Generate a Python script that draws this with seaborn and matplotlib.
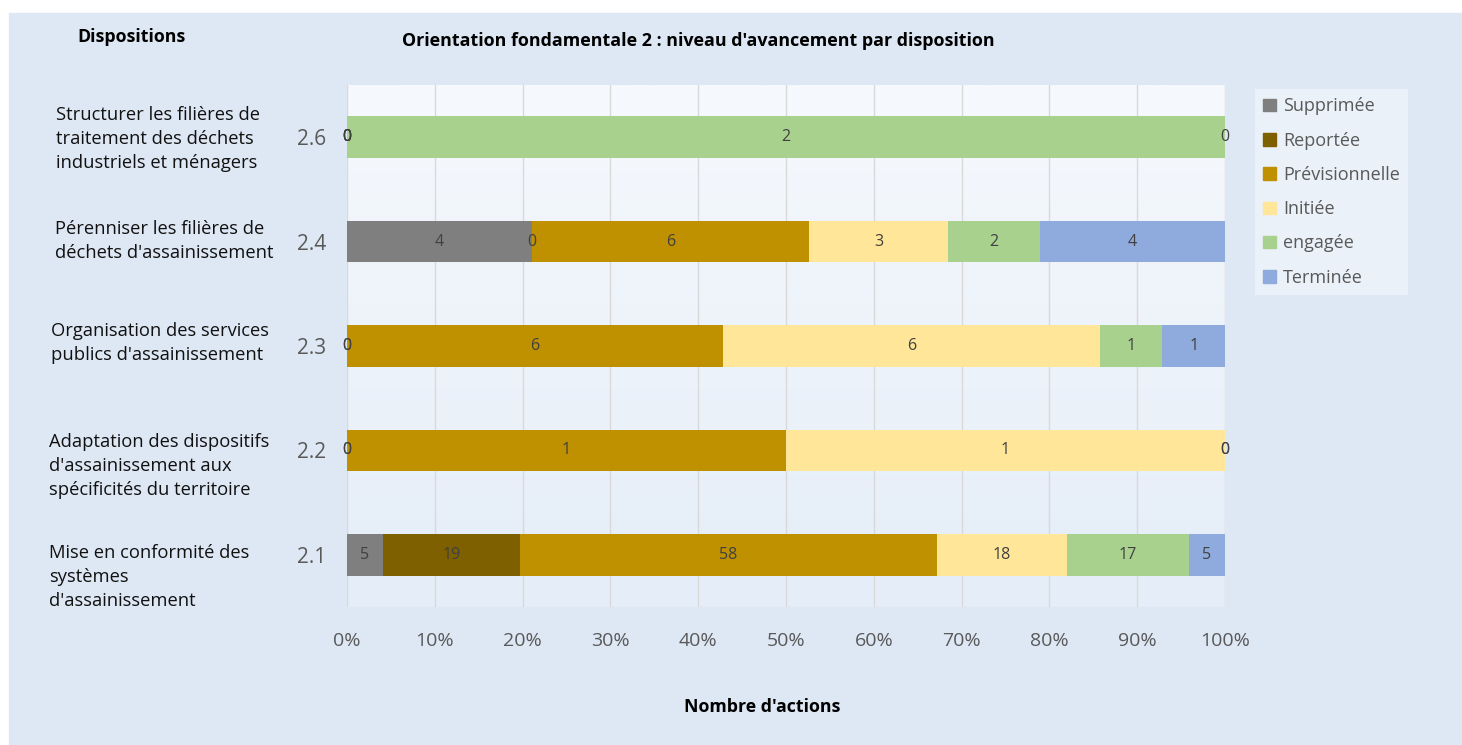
import matplotlib.pyplot as plt
import matplotlib.patches as mpatches
import matplotlib.ticker as ticker
import numpy as np
import pandas as pd
import seaborn as sns

codes = ["2.6", "2.4", "2.3", "2.2", "2.1"]
libelles = [
    "Structurer les filières de\ntraitement des déchets\nindustriels et ménagers",
    "Pérenniser les filières de\ndéchets d'assainissement",
    "Organisation des services\npublics d'assainissement",
    "Adaptation des dispositifs\nd'assainissement aux\nspécificités du territoire",
    "Mise en conformité des\nsystèmes\nd'assainissement",
]
statuts = ["Supprimée", "Reportée", "Prévisionnelle", "Initiée", "engagée", "Terminée"]
supprimee = [0, 4, 0, 0, 5]
reportee = [0, 0, 0, 0, 19]
previsionnelle = [0, 6, 6, 1, 58]
initiee = [0, 3, 6, 1, 18]
engagee = [2, 2, 1, 0, 17]
terminee = [0, 4, 1, 0, 5]
couleurs = ["#7f7f7f", "#7f6000", "#bf9000", "#ffe699", "#a9d18e", "#8faadc"]

df = pd.DataFrame({"code": codes, "Supprimée": supprimee, "Reportée": reportee,
                   "Prévisionnelle": previsionnelle, "Initiée": initiee,
                   "engagée": engagee, "Terminée": terminee})
tot = df[statuts].sum(axis=1)
pct = df[statuts].div(tot, axis=0) * 100
cum = pct.cumsum(axis=1)

sns.set_theme(style="white")
plt.rcParams['font.family'] = ['Open Sans', 'DejaVu Sans']

fig = plt.figure(figsize=(14.62, 7.45), dpi=100)
fig.patch.set_facecolor("white")
fig.patches.append(mpatches.Rectangle((9 / 1462, 0), 1, 1 - 13 / 745, transform=fig.transFigure,
                                      color="#dee8f4", zorder=-10))
ax = fig.add_axes([347 / 1462, 1 - 607 / 745, 878 / 1462, 522 / 745])
ax.set_facecolor("none")

# degrade du fond de la zone de tracé
grad = np.linspace(0, 1, 256).reshape(-1, 1)
cmap = sns.blend_palette(["#f6f9fd", "#e4edf8"], as_cmap=True)
ax.imshow(grad, cmap=cmap, aspect="auto", extent=[0, 100, 4.5, -0.5], zorder=-5)

handles = {}
for i in reversed(range(len(statuts))):
    s = statuts[i]
    d = pd.DataFrame({"code": codes, "val": cum[s].values})
    sns.barplot(data=d, x="val", y="code", order=codes, orient="h", color=couleurs[i],
                width=0.4, errorbar=None, linewidth=0, saturation=1, ax=ax, zorder=2)
    handles[s] = mpatches.Patch(color=couleurs[i], label=s)

for r in range(len(codes)):
    for s in statuts:
        v = df.loc[r, s]
        x = cum.loc[r, s] - pct.loc[r, s] / 2
        ax.text(x, r, str(v), ha="center", va="center", fontsize=11.5, color="#404040", zorder=4)

ax.set_xlim(0, 100)
ax.set_ylim(4.5, -0.5)
ax.xaxis.set_major_locator(ticker.MultipleLocator(10))
ax.xaxis.set_major_formatter(ticker.FuncFormatter(lambda x, p: "%d%%" % x))
ax.grid(axis="x", color="#d9d9d9", linewidth=1, zorder=0)
ax.set_axisbelow(True)
for sp in ax.spines.values():
    sp.set_visible(False)
ax.tick_params(axis="x", labelsize=14, labelcolor="#595959", pad=18, length=0)
ax.tick_params(axis="y", labelsize=15, labelcolor="#595959", pad=15, length=0)
ax.set_xlabel("")
ax.set_ylabel("")

# libellés des dispositions
ypos = [139, 241, 343, 466, 577]
xpos = [56, 55, 51, 49, 49]
for lib, x, y in zip(libelles, xpos, ypos):
    fig.text(x / 1462, 1 - y / 745, lib, ha="left", va="center", fontsize=13.2,
             color="#111111", linespacing=1.45)

fig.text(77 / 1462, 1 - 37 / 745, "Dispositions", ha="left", va="center",
         fontsize=12.8, fontweight="bold", color="black")
fig.text(698 / 1462, 1 - 41 / 745, "Orientation fondamentale 2 : niveau d'avancement par disposition",
         ha="center", va="center", fontsize=12.9, fontweight="bold", color="black")
fig.text(762 / 1462, 1 - 707 / 745, "Nombre d'actions", ha="center", va="center",
         fontsize=12.8, fontweight="bold", color="black")

leg = ax.legend(handles=[handles[s] for s in statuts], loc="upper left",
                bbox_to_anchor=(1.024, 1.009), frameon=True, fontsize=13,
                handlelength=0.7, handleheight=0.7, handletextpad=0.4,
                labelspacing=0.9, borderpad=0.45, fancybox=False)
leg.get_frame().set_facecolor("#eef4fa")
leg.get_frame().set_edgecolor("none")
for t in leg.get_texts():
    t.set_color("#595959")

fig.savefig("out.png", dpi=100)
